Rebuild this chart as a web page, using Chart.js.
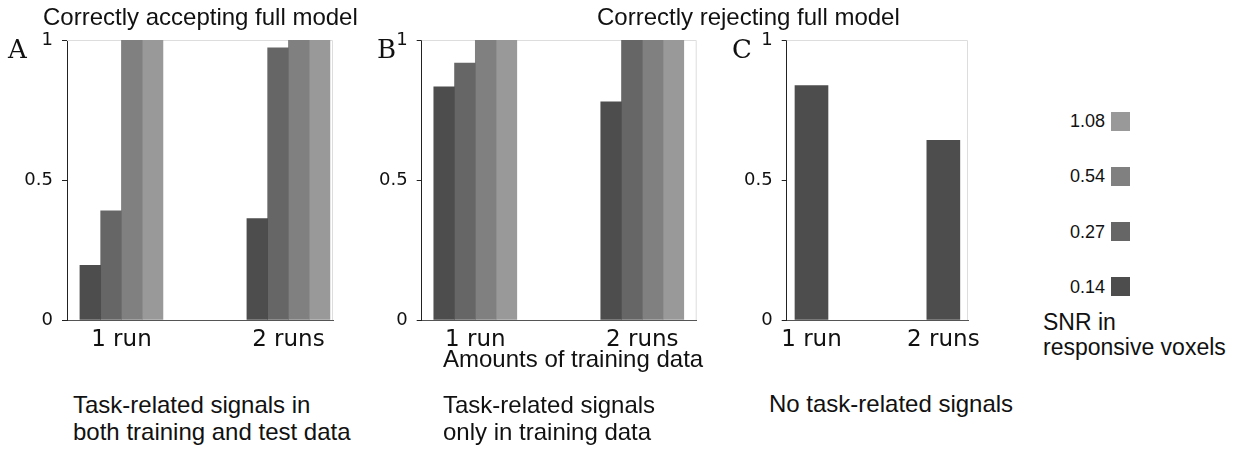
<!DOCTYPE html>
<html>
<head>
<meta charset="utf-8">
<script src="https://cdn.jsdelivr.net/npm/chart.js@4"></script>
<style>
  body { margin: 0; background: #fff; }
  #page { position: relative; width: 1247px; height: 449px; overflow: hidden; }
  canvas { position: absolute; top: 0; }
  .txt { position: absolute; white-space: nowrap; line-height: 1; color: #111; font-family: "Liberation Sans", Arial, sans-serif; }
  .serif { font-family: "DejaVu Serif", serif; }
  .swatch { position: absolute; width: 19px; height: 19px; }
</style>
</head>
<body>
<div id="page">
  <canvas id="chartA" width="350" height="360" style="left:0px"></canvas>
  <canvas id="chartB" width="360" height="360" style="left:355px"></canvas>
  <canvas id="chartC" width="270" height="360" style="left:720px"></canvas>
</div>
<script>
// data
const runLabels = ['1 run', '2 runs'];
const snrLevels = ['0.14', '0.27', '0.54', '1.08'];
const yTicks = [0, 0.5, 1];

// one row per SNR level, one value per amount of training data
const panelAValues = [
    [0.195, 0.362],
    [0.39, 0.972],
    [1, 1],
    [1, 1]
];
const panelBValues = [
    [0.833, 0.779],
    [0.918, 1],
    [1, 1],
    [1, 1]
];
const panelCValues = [
    [0.837, 0.642]
];

const snrColors = ['#4d4d4d', '#666666', '#808080', '#999999'];

// light frame on top and right of each plot
const framePlugin = {
    id: 'frame',
    beforeDatasetsDraw(chart) {
        const a = chart.chartArea;
        const ctx = chart.ctx;
        ctx.save();
        ctx.strokeStyle = '#dddddd';
        ctx.lineWidth = 1;
        ctx.beginPath();
        ctx.moveTo(a.left, a.top + 0.5);
        ctx.lineTo(a.right - 0.5, a.top + 0.5);
        ctx.lineTo(a.right - 0.5, a.bottom);
        ctx.stroke();
        ctx.restore();
    }
};

function makePanel(id, values, o) {
    const datasets = values.map(function(row, i) {
        return {
            label: snrLevels[i],
            data: row.map(function(v, j) { return { x: j, y: v }; }),
            backgroundColor: snrColors[i],
            borderWidth: 0,
            barThickness: o.barThickness
        };
    });

    return new Chart(document.getElementById(id), {
        type: 'bar',
        data: { datasets: datasets },
        plugins: [framePlugin],
        options: {
            responsive: false,
            animation: false,
            layout: { padding: { top: 40, right: o.padRight, left: 0, bottom: 0 } },
            plugins: { legend: { display: false }, tooltip: { enabled: false } },
            scales: {
                x: {
                    type: 'linear',
                    offset: false,
                    min: o.xMin,
                    max: o.xMax,
                    afterBuildTicks: function(s) {
                        s.ticks = runLabels.map(function(_, i) { return { value: i }; });
                    },
                    afterFit: function(s) { s.height = 40; },
                    grid: { display: false },
                    border: { display: true, color: '#555555', width: 1 },
                    ticks: {
                        autoSkip: false,
                        maxRotation: 0,
                        padding: -2,
                        color: '#111',
                        font: { family: 'DejaVu Sans', size: 23 },
                        callback: function(v, i) { return runLabels[i]; }
                    }
                },
                y: {
                    min: 0,
                    max: 1,
                    afterBuildTicks: function(s) {
                        s.ticks = yTicks.map(function(v) { return { value: v }; });
                    },
                    afterFit: function(s) { s.width = o.axisWidth; },
                    grid: { display: true, drawOnChartArea: false, drawTicks: true, tickLength: 5, color: '#222' },
                    border: { display: true, color: '#222', width: 1 },
                    ticks: {
                        padding: 9,
                        color: '#111',
                        font: { family: 'DejaVu Sans', size: 18 },
                        callback: function(v) { return String(v); }
                    }
                }
            }
        }
    });
}

makePanel('chartA', panelAValues, { xMin: -0.326, xMax: 1.267, axisWidth: 67, padRight: 17, barThickness: 20.75 });
makePanel('chartB', panelBValues, { xMin: -0.321, xMax: 1.326, axisWidth: 66.7, padRight: 18.3, barThickness: 20.75 });
makePanel('chartC', panelCValues, { xMin: -0.188, xMax: 1.187, axisWidth: 66.7, padRight: 22, barThickness: 33 });

// text around the panels (x, baseline y)
const page = document.getElementById('page');
function addText(str, x, baseline, size, cls, align) {
    const d = document.createElement('div');
    d.className = 'txt' + (cls ? ' ' + cls : '');
    d.textContent = str;
    d.style.fontSize = size + 'px';
    d.style.top = (baseline - 0.846 * size) + 'px';
    if (align === 'right') {
        d.style.right = (1247 - x) + 'px';
    } else {
        d.style.left = x + 'px';
    }
    page.appendChild(d);
}

addText('Correctly accepting full model', 43, 25, 24);
addText('Correctly rejecting full model', 597, 25, 24);
addText('A', 8, 58, 26, 'serif');
addText('B', 377, 58, 26, 'serif');
addText('C', 732, 58, 26, 'serif');
addText('Amounts of training data', 443, 367, 24);
addText('Task-related signals in', 73, 413, 24);
addText('both training and test data', 73, 440, 24);
addText('Task-related signals', 443, 413, 24);
addText('only in training data', 443, 440, 24);
addText('No task-related signals', 769, 412, 24);
addText('SNR in', 1043, 330, 23);
addText('responsive voxels', 1043, 355, 23);

// legend, highest SNR on top
const legendCenters = [286.5, 231.5, 176, 121];
snrLevels.forEach(function(lvl, i) {
    const cy = legendCenters[i];
    addText(lvl, 1105, cy + 6.5, 18, '', 'right');
    const sw = document.createElement('div');
    sw.className = 'swatch';
    sw.style.left = '1111px';
    sw.style.top = (cy - 9.5) + 'px';
    sw.style.background = snrColors[i];
    page.appendChild(sw);
});
</script>
</body>
</html>
